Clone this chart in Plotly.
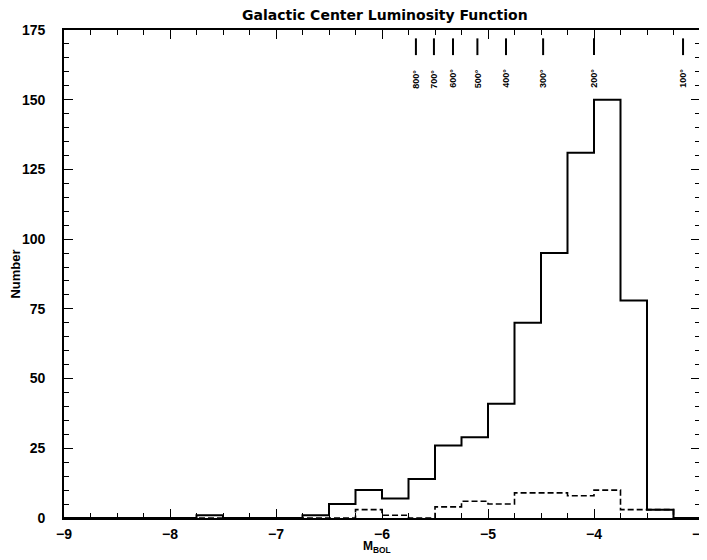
import numpy as np
import plotly.graph_objects as go

# ---- data ----
bin_edges = np.linspace(-9.0, -3.0, 25)  # 0.25 mag bins
all_counts = [0, 0, 0, 0, 0, 1, 0, 0, 0, 1, 5, 10, 7, 14, 26, 29, 41, 70, 95, 131, 150, 78, 3, 0]
sub_counts = [0, 0, 0, 0, 0, 0, 0, 0, 0, 0, 0, 3, 1, 0, 4, 6, 5, 9, 9, 8, 10, 3, 3, 0]
temp_labels = ["800°", "700°", "600°", "500°", "400°", "300°", "200°", "100°"]
temp_mbol = [-5.68, -5.51, -5.33, -5.10, -4.83, -4.48, -4.00, -3.16]
marker_y = [166, 172]
label_y = 157.5
x_ticks = [-9, -8, -7, -6, -5, -4, -3]
y_ticks = [0, 25, 50, 75, 100, 125, 150, 175]


def step_path(edges, counts):
    xs, ys = [edges[0]], [0]
    for i, c in enumerate(counts):
        xs += [edges[i], edges[i + 1]]
        ys += [c, c]
    xs.append(edges[-1])
    ys.append(0)
    return xs, ys


fig = go.Figure()
sx, sy = step_path(bin_edges, sub_counts)
fig.add_trace(go.Scatter(x=sx, y=sy, mode="lines",
                         line=dict(color="black", width=1.6, dash="6px,3px"),
                         hoverinfo="skip", showlegend=False))
ax, ay = step_path(bin_edges, all_counts)
fig.add_trace(go.Scatter(x=ax, y=ay, mode="lines",
                         line=dict(color="black", width=2),
                         hoverinfo="skip", showlegend=False))

mx, my = [], []
for m in temp_mbol:
    mx += [m, m, None]
    my += [marker_y[0], marker_y[1], None]
fig.add_trace(go.Scatter(x=mx, y=my, mode="lines",
                         line=dict(color="black", width=2),
                         hoverinfo="skip", showlegend=False))

for lab, m in zip(temp_labels, temp_mbol):
    fig.add_annotation(x=m, y=label_y, text=lab, showarrow=False, textangle=-90,
                       font=dict(family="Liberation Sans", size=9, color="black", weight="bold"))

fig.add_annotation(x=0.492, y=-0.06, xref="paper", yref="paper", yanchor="middle",
                   text="M<sub>BOL</sub>", showarrow=False,
                   font=dict(family="Liberation Sans", size=12, color="black", weight="bold"))

tick_font = dict(family="Liberation Sans", size=14, color="black", weight="bold")

axis_common = dict(showgrid=False, zeroline=False, showline=True, linecolor="black",
                   linewidth=1.6, mirror="ticks", ticks="inside", tickcolor="black",
                   tickwidth=1.3, ticklen=9, automargin=False, ticklabeloverflow="allow",
                   tickfont=tick_font)

fig.update_xaxes(range=[-9, -3], tickvals=x_ticks, ticktext=[f"−{abs(v)}" for v in x_ticks],
                 minor=dict(dtick=0.25, ticks="inside", ticklen=5, tickcolor="black", tickwidth=1.2),
                 ticklabelstandoff=2, **axis_common)
fig.update_yaxes(range=[0, 175], tickvals=y_ticks,
                 minor=dict(dtick=5, ticks="inside", ticklen=5, tickcolor="black", tickwidth=1.2),
                 ticklabelstandoff=14,
                 title=dict(text="Number", standoff=8,
                            font=dict(family="Liberation Sans", size=13, color="black", weight="bold")),
                 **axis_common)

# the page body adds an 8px offset; margins compensate so the plot lands where the reference has it
fig.update_layout(
    width=707, height=560,
    margin=dict(l=56, r=15, t=22, b=50, autoexpand=False),
    paper_bgcolor="white", plot_bgcolor="white",
    title=dict(text="Galactic Center Luminosity Function", x=0.533, xanchor="center",
               y=0.988, yanchor="middle",
               font=dict(family="DejaVu Sans", size=14, color="black", weight="bold")),
)

fig.write_html("out.html")
